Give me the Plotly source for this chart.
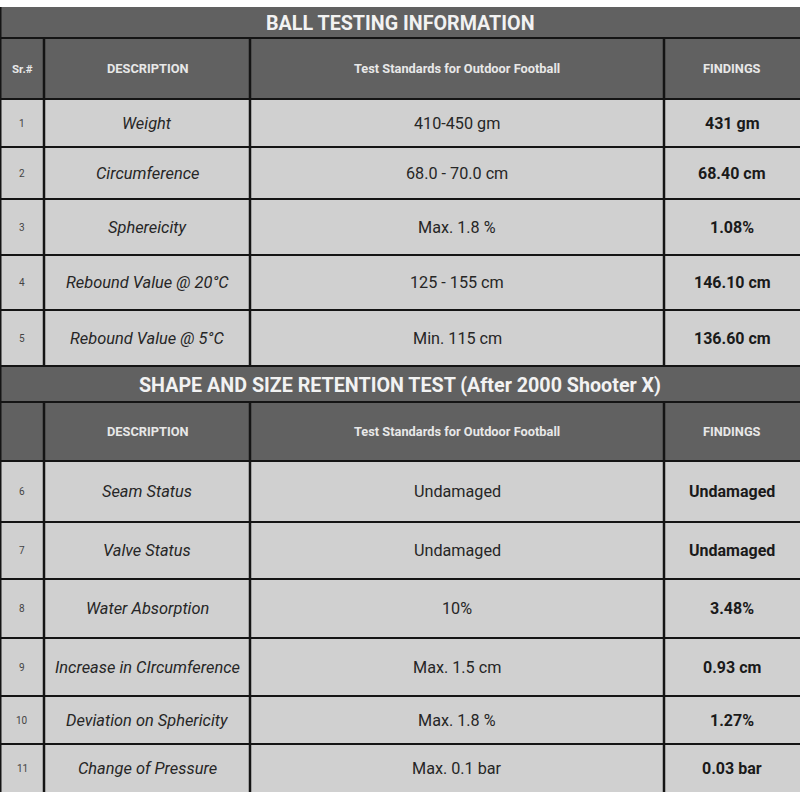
import plotly.graph_objects as go

# ---------------- data ----------------
title1 = "BALL TESTING INFORMATION"
title2 = "SHAPE AND SIZE RETENTION TEST (After 2000 Shooter X)"
col_headers1 = ["Sr.#", "DESCRIPTION", "Test Standards for Outdoor Football", "FINDINGS"]
col_headers2 = ["", "DESCRIPTION", "Test Standards for Outdoor Football", "FINDINGS"]

sr1 = ["1", "2", "3", "4", "5"]
desc1 = ["Weight", "Circumference", "Sphereicity", "Rebound Value @ 20°C", "Rebound Value @ 5°C"]
std1 = ["410-450 gm", "68.0 - 70.0 cm", "Max. 1.8 %", "125 - 155 cm", "Min. 115 cm"]
find1 = ["431 gm", "68.40 cm", "1.08%", "146.10 cm", "136.60 cm"]

sr2 = ["6", "7", "8", "9", "10", "11"]
desc2 = ["Seam Status", "Valve Status", "Water Absorption", "Increase in CIrcumference",
         "Deviation on Sphericity", "Change of Pressure"]
std2 = ["Undamaged", "Undamaged", "10%", "Max. 1.5 cm", "Max. 1.8 %", "Max. 0.1 bar"]
find2 = ["Undamaged", "Undamaged", "3.48%", "0.93 cm", "1.27%", "0.03 bar"]

# ---------------- layout (sizes in px) ----------------
col_widths = [44, 206, 414, 136]
top_gap = 7
sec1_heights = dict(title=31, header=61, rows=[48, 52, 56, 55, 56])
sec2_heights = dict(title=36, header=59, rows=[61, 57, 59, 58, 48, 48])

DARK = "#616161"
LIGHT = "#d0d0d0"
LINE = "#141414"
FONT = "Roboto"

col_edges = [0]
for w in col_widths:
    col_edges.append(col_edges[-1] + w)
col_mid = [(col_edges[i] + col_edges[i + 1]) / 2 for i in range(4)]

shapes, annots = [], []

def rect(x0, x1, y0, y1, color):
    shapes.append(dict(type="rect", xref="x", yref="y", x0=x0, x1=x1, y0=y0, y1=y1,
                       fillcolor=color, line=dict(width=0), layer="below"))

def hline(y, x0=0, x1=800, w=2):
    shapes.append(dict(type="line", xref="x", yref="y", x0=x0, x1=x1, y0=y, y1=y,
                       line=dict(color=LINE, width=w), layer="above"))

def vline(x, y0, y1, w=2.5):
    shapes.append(dict(type="line", xref="x", yref="y", x0=x, x1=x, y0=y0, y1=y1,
                       line=dict(color=LINE, width=w), layer="above"))

def text(x, y, s, size, color, bold=False, italic=False):
    if bold:
        s = f"<b>{s}</b>"
    if italic:
        s = f"<i>{s}</i>"
    annots.append(dict(x=x, y=y, xref="x", yref="y", text=s, showarrow=False,
                       xanchor="center", yanchor="middle",
                       font=dict(family=FONT, size=size, color=color)))

def section(y, title, headers, sr, desc, std, find, h, last=False):
    # title bar
    t0, t1 = y, y + h["title"]
    rect(0, 800, t0, t1, DARK)
    text(400, (t0 + t1) / 2 + 1, title, 19.7, "#f2f2f2", bold=True)
    # header row
    h0, h1 = t1, t1 + h["header"]
    rect(0, 800, h0, h1, DARK)
    hline(h0)
    for i, s in enumerate(headers):
        if s:
            text(col_mid[i], (h0 + h1) / 2, s, 12.8 if i else 11.5, "#e8e8e8", bold=True)
    # body rows
    y0 = h1
    hline(y0)
    for r in range(len(sr)):
        y1 = y0 + h["rows"][r]
        rect(0, 800, y0, y1, LIGHT)
        cy = (y0 + y1) / 2
        text(col_mid[0], cy, sr[r], 10, "#444444")
        text(col_mid[1], cy, desc[r], 16.4, "#262626", italic=True)
        text(col_mid[2], cy, std[r], 16.2, "#262626")
        text(col_mid[3], cy, find[r], 16, "#1a1a1a", bold=True)
        if not (last and r == len(sr) - 1):
            hline(y1)
        y0 = y1
    # vertical lines through header and body
    for x in col_edges[1:4]:
        vline(x, h0, y0)
    vline(0.5, t0, y0, w=2)
    return y0

y = top_gap
y = section(y, title1, col_headers1, sr1, desc1, std1, find1, sec1_heights)
y = section(y, title2, col_headers2, sr2, desc2, std2, find2, sec2_heights, last=True)

fig = go.Figure()
fig.update_layout(
    width=800, height=800, margin=dict(l=0, r=0, t=0, b=0),
    paper_bgcolor="white", plot_bgcolor="white",
    xaxis=dict(range=[0, 800], visible=False, fixedrange=True),
    yaxis=dict(range=[800, 0], visible=False, fixedrange=True),
    shapes=shapes, annotations=annots, showlegend=False,
)
fig.write_html("out.html", config={"displayModeBar": False},
               post_script="document.body.style.margin='0px';")
